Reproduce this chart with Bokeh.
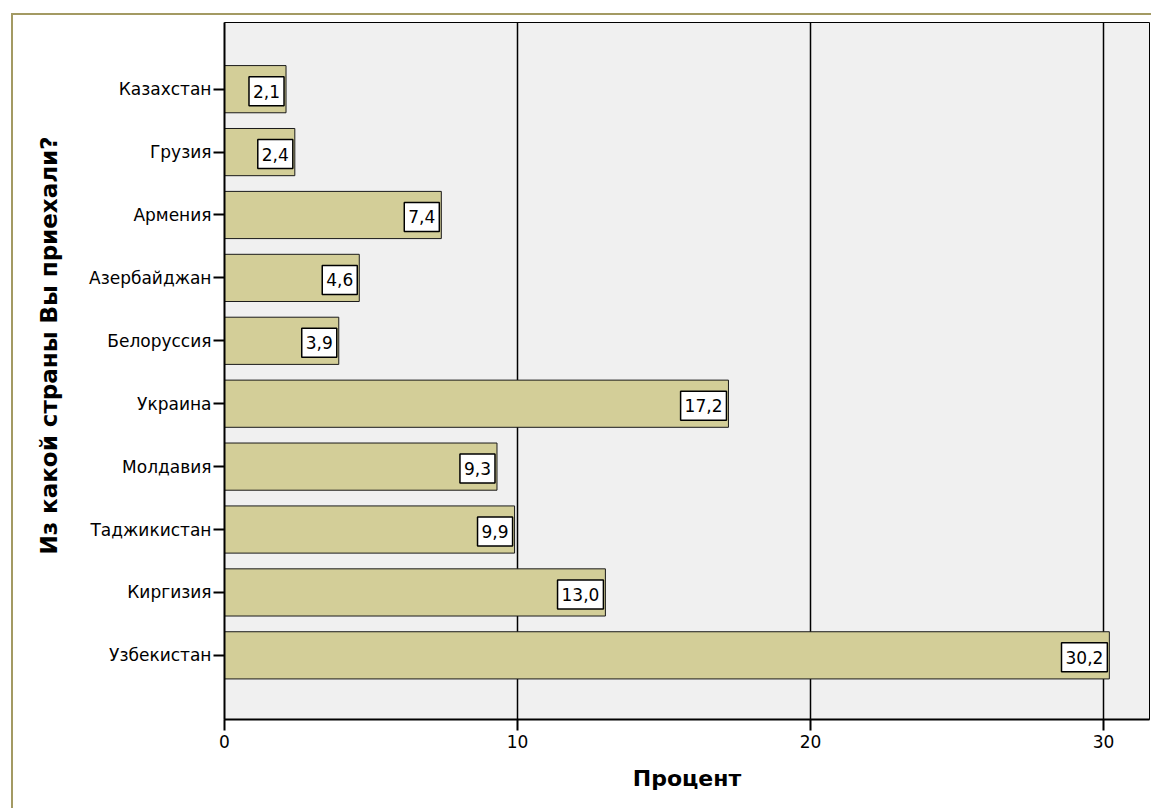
from bokeh.plotting import figure
from bokeh.models import Range1d, FixedTicker, Label, Title
from bokeh.embed import file_html
from bokeh.resources import INLINE

# Data (top to bottom as shown)
countries = ["Казахстан", "Грузия", "Армения", "Азербайджан", "Белоруссия",
             "Украина", "Молдавия", "Таджикистан", "Киргизия", "Узбекистан"]
percent = [2.1, 2.4, 7.4, 4.6, 3.9, 17.2, 9.3, 9.9, 13.0, 30.2]
value_labels = ["2,1", "2,4", "7,4", "4,6", "3,9", "17,2", "9,3", "9,9", "13,0", "30,2"]
x_ticks = [0, 10, 20, 30]
x_title = "Процент"
y_title = "Из какой страны Вы приехали?"

n = len(countries)
pos = list(range(n, 0, -1))  # first item at top

FONT = "DejaVu Sans"
OLIVE = "#a39a63"

p = figure(width=1151, height=808, output_backend="svg", toolbar_location=None,
           x_range=Range1d(0, 31.57), y_range=Range1d(-0.02, 11.06),
           min_border_left=224, min_border_right=2, min_border_top=22, min_border_bottom=89,
           background_fill_color="#f0f0f0", border_fill_color=None,
           outline_line_color="black", outline_line_width=1)

p.styles = {
    "background-image": f"linear-gradient({OLIVE},{OLIVE}), linear-gradient({OLIVE},{OLIVE})",
    "background-size": "2px 100%, 100% 2px",
    "background-position": "11px 13px, 11px 13px",
    "background-repeat": "no-repeat",
}

p.hbar(y=pos, right=percent, left=0, height=0.75, fill_color="#d3ce98",
       line_color="#1a1a1a", line_width=1)

for v, s, y in zip(percent, value_labels, pos):
    p.add_layout(Label(x=v, y=y, text=s, x_offset=-2, y_offset=-2, text_align="right",
                       text_baseline="middle", text_font=FONT, text_font_size="17px",
                       text_color="black", background_fill_color="white",
                       border_line_color="black", border_line_width=1.5, padding=(4, 8)))

# grid
p.ygrid.visible = False
p.xgrid.ticker = FixedTicker(ticks=x_ticks)
p.xgrid.grid_line_color = "black"
p.xgrid.grid_line_width = 1.5

# x axis
p.xaxis.ticker = FixedTicker(ticks=x_ticks)
p.xaxis.major_tick_out = 11
p.xaxis.major_tick_in = 0
p.xaxis.minor_tick_line_color = None
p.xaxis.axis_line_width = 2
p.xaxis.major_tick_line_width = 2
p.xaxis.major_label_text_font = FONT
p.xaxis.major_label_text_font_size = "17px"
p.xaxis.major_label_text_color = "black"
p.xaxis.major_label_standoff = 4
p.xaxis.axis_label = x_title
p.xaxis.axis_label_text_font = FONT
p.xaxis.axis_label_text_font_size = "22px"
p.xaxis.axis_label_text_font_style = "bold"
p.xaxis.axis_label_text_color = "black"
p.xaxis.axis_label_standoff = 15

# y axis
p.yaxis.ticker = FixedTicker(ticks=pos)
p.yaxis.major_label_overrides = {y: c for y, c in zip(pos, countries)}
p.yaxis.major_tick_out = 11
p.yaxis.major_tick_in = 0
p.yaxis.minor_tick_line_color = None
p.yaxis.axis_line_width = 2
p.yaxis.major_tick_line_width = 2
p.yaxis.major_label_text_font = FONT
p.yaxis.major_label_text_font_size = "17px"
p.yaxis.major_label_text_color = "black"
p.yaxis.major_label_standoff = 2

p.add_layout(Title(text=y_title, align="left", offset=165, standoff=49,
                   text_font=FONT, text_font_size="23px", text_font_style="bold",
                   text_color="black"), "left")

open("out.html", "w").write(file_html(p, INLINE))
